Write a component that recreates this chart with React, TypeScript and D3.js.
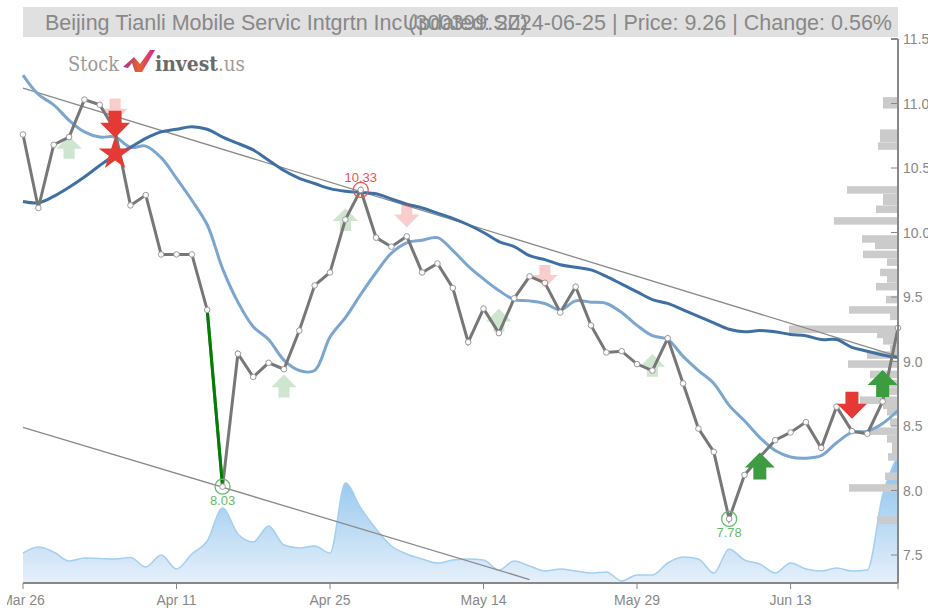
import React from 'react';
import * as d3 from 'd3';

const tickDays = ['Mar 26', 'Apr 11', 'Apr 25', 'May 14', 'May 29', 'Jun 13'];
const tickIndex = [0, 10, 20, 30, 40, 50];
const priceTicks = [7.5, 8, 8.5, 9, 9.5, 10, 10.5, 11, 11.5];

const closes = [
  10.76, 10.19, 10.68, 10.74, 11.03, 10.99, 10.79, 10.21, 10.29, 9.83,
  9.83, 9.83, 9.4, 8.03, 9.06, 8.88, 8.99, 8.94, 9.24, 9.59,
  9.69, 10.1, 10.33, 9.96, 9.89, 9.97, 9.69, 9.76, 9.57, 9.15,
  9.41, 9.22, 9.49, 9.66, 9.61, 9.38, 9.58, 9.28, 9.07, 9.08,
  8.98, 8.93, 9.18, 8.83, 8.48, 8.3, 7.78, 8.12, 8.26, 8.39,
  8.45, 8.53, 8.33, 8.65, 8.46, 8.44, 8.69, 9.26,
];
const maFast = [
  11.22, 11.07, 10.99, 10.87, 10.78, 10.74, 10.74, 10.66, 10.67, 10.58,
  10.42, 10.25, 10.06, 9.72, 9.46, 9.27, 9.17, 9.01, 8.93, 8.93,
  9.19, 9.34, 9.52, 9.69, 9.84, 9.92, 9.94, 9.96, 9.86, 9.74,
  9.64, 9.55, 9.48, 9.47, 9.45, 9.4, 9.47, 9.46, 9.45, 9.38,
  9.28, 9.2, 9.17, 9.04, 8.93, 8.83, 8.66, 8.54, 8.41, 8.31,
  8.26, 8.25, 8.27, 8.37, 8.45, 8.46, 8.52, 8.62,
];
const maSlow = [
  10.24, 10.23, 10.28, 10.35, 10.43, 10.52, 10.6, 10.66, 10.73, 10.78,
  10.8, 10.82, 10.8, 10.74, 10.69, 10.64, 10.56, 10.48, 10.42, 10.38,
  10.34, 10.32, 10.31, 10.3, 10.26, 10.22, 10.19, 10.15, 10.11, 10.06,
  10.0, 9.93, 9.89, 9.82, 9.79, 9.75, 9.73, 9.71, 9.66, 9.6,
  9.54, 9.48, 9.45, 9.4, 9.35, 9.3, 9.25, 9.23, 9.24, 9.23,
  9.21, 9.2, 9.17, 9.17, 9.11, 9.08, 9.05, 9.03,
];
const volumes = [
  3.0, 3.6, 3.1, 2.2, 2.5, 2.45, 2.4, 2.55, 1.6, 2.8,
  1.4, 2.9, 4.2, 7.5, 4.9, 4.1, 5.7, 3.8, 3.5, 3.7,
  3.0, 10.0, 7.5, 5.4, 3.7, 2.9, 2.4, 2.0, 2.3, 2.4,
  2.3, 1.3, 2.2, 1.7, 1.2, 1.4, 1.2, 1.0, 1.1, 0.2,
  0.8, 0.8, 2.0, 2.6, 2.4, 1.0, 3.4, 2.3, 1.9, 1.0,
  2.0, 1.4, 1.2, 1.5, 1.2, 1.3, 8.8, 12.8,
];

// volume by price, drawn against the right axis
const profilePrices = [
  11.02, 10.99, 10.77, 10.73, 10.67, 10.33, 10.27, 10.24, 10.18, 10.09,
  9.95, 9.9, 9.83, 9.77, 9.69, 9.64, 9.58, 9.48, 9.4, 9.35,
  9.25, 9.21, 9.16, 9.1, 9.05, 8.98, 8.9, 8.83, 8.77, 8.7,
  8.66, 8.61, 8.53, 8.46, 8.4, 8.35, 8.31, 8.26, 8.11, 8.02, 7.77,
];
const profileSizes = [
  15, 15, 18, 18, 20, 51, 15, 15, 22, 64,
  36, 23, 35, 11, 18, 11, 22, 12, 49, 8,
  109, 21, 15, 8, 31, 50, 28, 18, 18, 38,
  15, 11, 8, 30, 11, 6, 6, 10, 13, 49, 21,
];

const upperTrendIdx = [0, 57];
const upperTrendPrice = [11.12, 9.04];
const lowerTrendIdx = [0, 33];
const lowerTrendPrice = [8.49, 7.31];

const fadedUpIdx = [3, 17, 21, 31, 41];
const fadedUpPrice = [10.66, 8.81, 10.1, 9.32, 8.97];
const fadedDownIdx = [6, 25, 34];
const fadedDownPrice = [10.95, 10.13, 9.66];
const strongUpIdx = [48, 56];
const strongUpPrice = [8.19, 8.83];
const strongDownIdx = [6, 54];
const strongDownPrice = [10.84, 8.66];
const starIdx = 6;
const starPrice = 10.61;

const dropIdx = 12; // the big one day fall is drawn in green
const lowMarks = [13, 46];
const highMarks = [22];

const GREY = '#888';
const W = 928;
const H = 608;

const idx = d3.range(closes.length);
const x = d3.scaleLinear().domain([0, closes.length - 1]).range([23, 898]);
const y = d3.scaleLinear().domain([7.5, 11.5]).range([555, 39]);
const yVol = d3.scaleLinear().domain([0, 13]).range([583, 453]);
const wProfile = d3.scaleLinear().domain([0, 109]).range([0, 109]);

const priceLine = (vals: number[]) =>
  d3.line<number>().x(i => x(i)).y(i => y(vals[i])).curve(d3.curveCatmullRom)(idx)!;
const closeLine = d3.line<number>().x(i => x(i)).y(i => y(closes[i]))(idx)!;
const volArea = d3.area<number>().x(i => x(i)).y0(yVol(0)).y1(i => yVol(volumes[i])).curve(d3.curveMonotoneX)(idx)!;
const volLine = d3.line<number>().x(i => x(i)).y(i => yVol(volumes[i])).curve(d3.curveMonotoneX)(idx)!;
const star = d3.symbol(d3.symbolStar, 340)()!;

function Arrow({ i, price, up, color, scale = 1, opacity = 1 }: { i: number; price: number; up: boolean; color: string; scale?: number; opacity?: number }) {
  const dir = up ? 1 : -1;
  return (
    <path
      transform={`translate(${x(i)},${y(price)}) scale(${scale},${scale * dir})`}
      d="M0,-13.5L15,1.5L6.5,1.5L6.5,13.5L-6.5,13.5L-6.5,1.5L-15,1.5Z"
      fill={color}
      opacity={opacity}
    />
  );
}

export default function App() {
  return (
    <svg width={W} height={H} style={{ position: 'absolute', left: 0, top: 0, display: 'block' }} fontFamily="'Liberation Sans', Arial, sans-serif">
      <defs>
        <linearGradient id="volFill" x1="0" y1="0" x2="0" y2="1">
          <stop offset="0%" stopColor="#85bfec" />
          <stop offset="100%" stopColor="#e6f0fa" />
        </linearGradient>
        <linearGradient id="logoFill" x1="0" y1="0" x2="1" y2="0">
          <stop offset="0%" stopColor="#9c2f9e" />
          <stop offset="50%" stopColor="#e8622a" />
          <stop offset="100%" stopColor="#d5219a" />
        </linearGradient>
        <clipPath id="pageLeft"><rect x={7} y={0} width={W} height={H} /></clipPath>
      </defs>

      <rect x={23} y={7} width={875} height={30} fill="#e0e0e0" />
      <text x={45} y={30} fontSize={21.5} fill={GREY}>Beijing Tianli Mobile Servic Intgrtn Inc (300399.SZ)</text>
      <text x={892} y={30} fontSize={21.5} fill={GREY} textAnchor="end">Updated: 2024-06-25 | Price: 9.26 | Change: 0.56%</text>

      {/* logo */}
      <g>
        <text x={68} y={71} fontSize={20} fill="#9a9a9a" fontFamily="'DejaVu Serif', serif" textLength={51} lengthAdjust="spacingAndGlyphs">Stock</text>
        <path d="M123,67L134,57L140,64L150,50L155,50L142,72L135,72L132,63L128,68Z" fill="url(#logoFill)" />
        <text x={155} y={71} fontSize={20} fontWeight="bold" fill="#6a6a6a" fontFamily="'DejaVu Serif', serif" textLength={63} lengthAdjust="spacingAndGlyphs">invest</text>
        <text x={218} y={71} fontSize={20} fill="#9a9a9a" fontFamily="'DejaVu Serif', serif" textLength={27} lengthAdjust="spacingAndGlyphs">.us</text>
      </g>

      <path d={volArea} fill="url(#volFill)" />
      <path d={volLine} fill="none" stroke="#a3cff1" strokeWidth={1.5} />

      {profilePrices.map((p, k) => (
        <rect key={k} x={x(57) - wProfile(profileSizes[k])} y={y(p) - 3.75} width={wProfile(profileSizes[k])} height={7.5} fill="#cbcbcb" />
      ))}

      <line x1={x(upperTrendIdx[0])} y1={y(upperTrendPrice[0])} x2={x(upperTrendIdx[1])} y2={y(upperTrendPrice[1])} stroke="#8a8a8a" strokeWidth={1.3} />
      <line x1={x(lowerTrendIdx[0])} y1={y(lowerTrendPrice[0])} x2={x(lowerTrendIdx[1])} y2={y(lowerTrendPrice[1])} stroke="#8a8a8a" strokeWidth={1.3} />

      <path d={priceLine(maFast)} fill="none" stroke="#7ba6cf" strokeWidth={3} />
      <path d={priceLine(maSlow)} fill="none" stroke="#3f70a4" strokeWidth={3} />

      {fadedUpIdx.map((d, k) => <Arrow key={k} i={d} price={fadedUpPrice[k]} up color="#3d9c40" scale={0.85} opacity={0.25} />)}
      {fadedDownIdx.map((d, k) => <Arrow key={k} i={d} price={fadedDownPrice[k]} up={false} color="#e53935" scale={0.85} opacity={0.25} />)}

      <path d={closeLine} fill="none" stroke="#777" strokeWidth={3} />
      <line x1={x(dropIdx)} y1={y(closes[dropIdx])} x2={x(dropIdx + 1)} y2={y(closes[dropIdx + 1])} stroke="#008000" strokeWidth={3} />
      {idx.map(i => (
        <circle key={i} cx={x(i)} cy={y(closes[i])} r={2.8} fill="#fff" stroke="#999" strokeWidth={1} />
      ))}

      {lowMarks.map(i => (
        <g key={i}>
          <circle cx={x(i)} cy={y(closes[i])} r={7.5} fill="none" stroke="#66bb6a" strokeWidth={1.3} />
          <text x={x(i)} y={y(closes[i]) + 18} fontSize={13} fill="#66bb6a" textAnchor="middle">{closes[i].toFixed(2)}</text>
        </g>
      ))}
      {highMarks.map(i => (
        <g key={i}>
          <circle cx={x(i)} cy={y(closes[i])} r={7.5} fill="none" stroke="#ef5350" strokeWidth={1.3} />
          <text x={x(i)} y={y(closes[i]) - 8} fontSize={13} fill="#ef5350" textAnchor="middle">{closes[i].toFixed(2)}</text>
        </g>
      ))}

      {strongUpIdx.map((d, k) => <Arrow key={k} i={d} price={strongUpPrice[k]} up color="#3d9c40" />)}
      {strongDownIdx.map((d, k) => <Arrow key={k} i={d} price={strongDownPrice[k]} up={false} color="#e53935" />)}
      <path d={star} transform={`translate(${x(starIdx)},${y(starPrice)})`} fill="#e53935" />

      {/* axes */}
      <line x1={x(57)} y1={y(11.5)} x2={x(57)} y2={yVol(0)} stroke={GREY} strokeWidth={2} />
      <line x1={x(0)} y1={yVol(0)} x2={x(57)} y2={yVol(0)} stroke={GREY} strokeWidth={2} />
      {priceTicks.map(t => (
        <g key={t}>
          <line x1={x(57) - 7} y1={y(t)} x2={x(57)} y2={y(t)} stroke={GREY} strokeWidth={t === 11.5 ? 2 : 1} />
          <text x={x(57) + 5} y={y(t) + 5} fontSize={14} fill={GREY}>{t.toFixed(1)}</text>
        </g>
      ))}
      <line x1={x(57)} y1={yVol(0)} x2={x(57)} y2={yVol(0) + 6} stroke={GREY} strokeWidth={1} />
      <g clipPath="url(#pageLeft)">
        {tickIndex.map((d, k) => (
          <g key={d}>
            <line x1={x(d)} y1={yVol(0)} x2={x(d)} y2={yVol(0) + 6} stroke={GREY} strokeWidth={1} />
            <text x={x(d)} y={605} fontSize={14} fill={GREY} textAnchor="middle">{tickDays[k]}</text>
          </g>
        ))}
      </g>
    </svg>
  );
}
